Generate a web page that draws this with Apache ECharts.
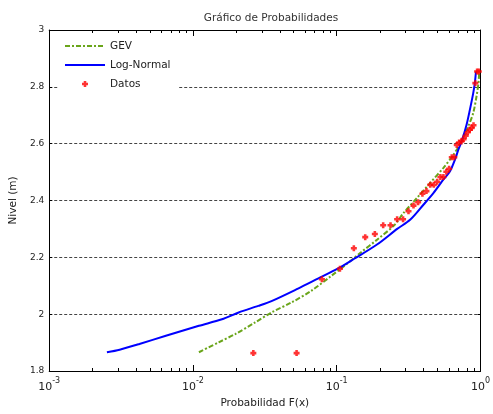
<!DOCTYPE html>
<html>
<head>
<meta charset="utf-8">
<script src="https://cdn.jsdelivr.net/npm/echarts@6/dist/echarts.min.js"></script>
<style>
  html, body { margin: 0; padding: 0; background: #fff; }
  #chart { width: 493px; height: 414px; }
</style>
</head>
<body>
<div id="chart"></div>
<script>
// Observed data: non-exceedance probability and level (m)
const datosProb = [0.0263, 0.0526, 0.0789, 0.1053, 0.1316, 0.1579, 0.1842, 0.2105, 0.2368, 0.2632,
  0.2895, 0.3158, 0.3421, 0.3684, 0.3947, 0.4211, 0.4474, 0.4737, 0.5, 0.5263,
  0.5526, 0.5789, 0.6053, 0.6316, 0.6579, 0.6842, 0.7105, 0.7368, 0.7632, 0.7895,
  0.8158, 0.8421, 0.8684, 0.8947, 0.9211, 0.9474, 0.9737];
const datosNivel = [1.863, 1.863, 2.123, 2.160, 2.232, 2.271, 2.282, 2.313, 2.313, 2.334,
  2.334, 2.362, 2.382, 2.394, 2.424, 2.433, 2.455, 2.455, 2.466, 2.483,
  2.483, 2.501, 2.512, 2.552, 2.552, 2.595, 2.604, 2.608, 2.616, 2.628,
  2.640, 2.649, 2.655, 2.665, 2.813, 2.854, 2.854];

// Fitted Log-Normal curve
const lognormProb = [0.00252, 0.00309, 0.00424, 0.00648, 0.0110, 0.0159, 0.0208, 0.0285, 0.0352, 0.0538,
  0.0740, 0.1016, 0.1324, 0.1918, 0.2634, 0.3254, 0.4025, 0.4719, 0.553, 0.6142,
  0.665, 0.702, 0.7396, 0.8006, 0.8437, 0.8907, 0.9135, 0.931];
const lognormNivel = [1.866, 1.875, 1.895, 1.924, 1.959, 1.982, 2.006, 2.029, 2.046, 2.090,
  2.125, 2.160, 2.195, 2.246, 2.300, 2.333, 2.386, 2.427, 2.474, 2.503,
  2.544, 2.579, 2.608, 2.667, 2.719, 2.778, 2.813, 2.854];

// Fitted GEV curve
const gevProb = [0.0110, 0.0151, 0.0197, 0.0271, 0.0352, 0.0484, 0.0665, 0.0913, 0.113, 0.1471,
  0.1918, 0.25, 0.2929, 0.3619, 0.4469, 0.553, 0.648, 0.7396, 0.8227, 0.8907,
  0.9384, 0.9687, 0.9795];
const gevNivel = [1.866, 1.901, 1.930, 1.971, 2.006, 2.041, 2.082, 2.134, 2.170, 2.217,
  2.263, 2.312, 2.357, 2.409, 2.462, 2.515, 2.561, 2.608, 2.661, 2.708,
  2.766, 2.813, 2.848];

// Axis ticks
const xTickValues = [0.001, 0.01, 0.1, 1];
const xTickExponents = ['-3', '-2', '-1', '0'];
const xMinorTicks = [0.002, 0.003, 0.004, 0.005, 0.006, 0.007, 0.008, 0.009,
  0.02, 0.03, 0.04, 0.05, 0.06, 0.07, 0.08, 0.09,
  0.2, 0.3, 0.4, 0.5, 0.6, 0.7, 0.8, 0.9];

const Y_MIN = 1.8, Y_MAX = 3;
const pairs = (xs, ys) => xs.map((x, i) => [x, ys[i]]);

const chart = echarts.init(document.getElementById('chart'), null, { renderer: 'canvas' });
const FONT = 'DejaVu Sans';
const PLUS = 'path://M2,0H5V2H7V5H5V7H2V5H0V2H2Z';

chart.setOption({
  animation: false,
  backgroundColor: '#fff',
  title: {
    text: 'Gráfico de Probabilidades',
    left: 266, top: 8, textAlign: 'center',
    textStyle: { fontFamily: FONT, fontSize: 10.5, fontWeight: 'normal', color: '#333' }
  },
  legend: {
    data: [
      { name: 'GEV', itemStyle: { opacity: 0 } },
      { name: 'Log-Normal', itemStyle: { opacity: 0 } },
      { name: 'Datos' }
    ],
    orient: 'vertical',
    left: 58, top: 38,
    padding: [2, 8, 2, 6],
    itemWidth: 40, itemHeight: 6, itemGap: 7,
    backgroundColor: '#fff',
    textStyle: { fontFamily: FONT, fontSize: 10.5, color: '#222', lineHeight: 12 }
  },
  grid: { left: 49, right: 9, top: 30, bottom: 42, containLabel: false },
  xAxis: [{
    type: 'log', logBase: 10, min: 0.001, max: 1,
    position: 'bottom',
    name: 'Probabilidad F(x)', nameLocation: 'middle', nameGap: 27,
    nameTextStyle: { fontFamily: FONT, fontSize: 10.5, color: '#222' },
    axisLine: { lineStyle: { color: '#000', width: 1 } },
    axisTick: { inside: true, length: 6, lineStyle: { color: '#000' } },
    splitLine: { show: false },
    axisLabel: {
      margin: 6,
      formatter: function (v) {
        let k = 0;
        xTickValues.forEach((t, i) => { if (Math.abs(Math.log10(t) - Math.log10(v)) < 1e-6) k = i; });
        return '{b|10}{s|' + xTickExponents[k] + '}';
      },
      rich: {
        b: { fontFamily: FONT, fontSize: 11, color: '#222', padding: [5, 0, 0, 0] },
        s: { fontFamily: FONT, fontSize: 8, color: '#222', verticalAlign: 'top' }
      }
    }
  }, {
    type: 'log', logBase: 10, min: 0.001, max: 1,
    position: 'top',
    axisLine: { lineStyle: { color: '#000', width: 1 } },
    axisTick: { inside: true, length: 6, lineStyle: { color: '#000' } },
    axisLabel: { show: false },
    splitLine: { show: false }
  }],
  yAxis: [{
    type: 'value', min: Y_MIN, max: Y_MAX, interval: 0.2,
    position: 'left',
    name: 'Nivel (m)', nameLocation: 'middle', nameGap: 18,
    nameTextStyle: { fontFamily: FONT, fontSize: 10.5, color: '#222' },
    axisLine: { show: true, lineStyle: { color: '#000', width: 1 } },
    axisTick: { show: true, inside: true, length: 3, lineStyle: { color: '#000' } },
    axisLabel: { margin: 5, fontFamily: FONT, fontSize: 9, color: '#222' },
    splitLine: { show: true, lineStyle: { color: '#444', width: 1, type: [3, 2] } }
  }, {
    type: 'value', min: Y_MIN, max: Y_MAX, interval: 0.2,
    position: 'right',
    axisLine: { show: true, lineStyle: { color: '#000', width: 1 } },
    axisTick: { show: true, inside: true, length: 3, lineStyle: { color: '#000' } },
    axisLabel: { show: false },
    splitLine: { show: false }
  }],
  series: [{
    // minor log ticks along the bottom and top edges
    name: 'minor-ticks',
    type: 'custom',
    xAxisIndex: 0, yAxisIndex: 0,
    silent: true, z: 1,
    data: xMinorTicks.map(v => [v, Y_MIN]),
    renderItem: function (params, api) {
      const v = api.value(0);
      const b = api.coord([v, Y_MIN]);
      const t = api.coord([v, Y_MAX]);
      const x = Math.round(b[0]) + 0.5;
      return {
        type: 'group',
        children: [
          { type: 'line', shape: { x1: x, y1: b[1], x2: x, y2: b[1] - 3 }, style: { stroke: '#000', lineWidth: 1 } },
          { type: 'line', shape: { x1: x, y1: t[1], x2: x, y2: t[1] + 3 }, style: { stroke: '#000', lineWidth: 1 } }
        ]
      };
    }
  }, {
    name: 'GEV',
    type: 'line',
    data: pairs(gevProb, gevNivel),
    symbol: 'none', smooth: 0.3, z: 3,
    lineStyle: { color: '#6aa51a', width: 2, type: [5, 2, 2, 2] },
    itemStyle: { color: '#6aa51a' }
  }, {
    name: 'Log-Normal',
    type: 'line',
    data: pairs(lognormProb, lognormNivel),
    symbol: 'none', smooth: 0.3, z: 4,
    lineStyle: { color: '#0000ff', width: 2 },
    itemStyle: { color: '#0000ff' }
  }, {
    name: 'Datos',
    type: 'scatter',
    data: pairs(datosProb, datosNivel),
    symbol: PLUS,
    symbolSize: 6, z: 5,
    itemStyle: { color: '#ff0000' }
  }]
});
</script>
</body>
</html>
